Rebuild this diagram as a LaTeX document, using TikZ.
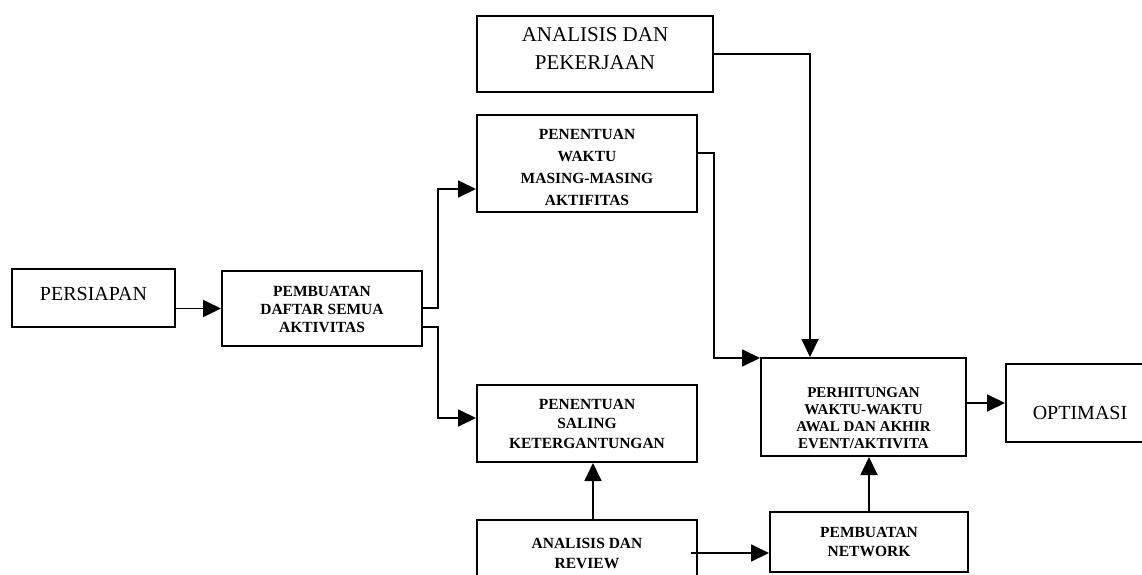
\documentclass[tikz,border=0pt]{standalone}
\usepackage{fontspec}
\setmainfont{Liberation Serif}
\usetikzlibrary{arrows.meta,calc}
\begin{document}
\begin{tikzpicture}[x=1pt,y=-1pt,
  box/.style={draw, line width=2pt, rectangle, inner sep=0pt},
  txt/.style={align=center, inner sep=0pt},
  small/.style={txt, font=\bfseries\fontsize{15.5pt}{#1}\selectfont},
  arr/.style={line width=1.8pt, -{Triangle[length=18pt,width=17pt]}},
]
\useasboundingbox (0,0) rectangle (1142,575);

\node[box, minimum width=163pt, minimum height=58pt,
  label={[txt, font=\fontsize{20pt}{24pt}\selectfont, yshift=4pt]center:PERSIAPAN}] (pers) at (93.5,298) {};
\node[box, minimum width=200pt, minimum height=75pt,
  label={[small=18pt, yshift=-1pt]center:PEMBUATAN\\DAFTAR SEMUA\\AKTIVITAS}] (daftar) at (322,308.5) {};
\node[box, minimum width=236pt, minimum height=76pt,
  label={[txt, font=\fontsize{21pt}{28pt}\selectfont, yshift=5pt]center:ANALISIS DAN\\PEKERJAAN}] (pekerjaan) at (595,54) {};
\node[box, minimum width=220pt, minimum height=97pt,
  label={[small=22pt, yshift=-3.5pt]center:PENENTUAN\\WAKTU\\MASING-MASING\\AKTIFITAS}] (waktu) at (587,163.5) {};
\node[box, minimum width=220pt, minimum height=77pt,
  label={[small=19.5pt]center:PENENTUAN\\SALING\\KETERGANTUNGAN}] (saling) at (587,423.5) {};
\node[box, minimum width=220pt, minimum height=70pt,
  label={[small=20pt, yshift=2pt]center:ANALISIS DAN\\REVIEW}] (review) at (587,555) {};
\node[box, minimum width=198pt, minimum height=60pt,
  label={[small=18.5pt]center:PEMBUATAN\\NETWORK}] (network) at (869,542) {};
\node[box, minimum width=205pt, minimum height=98pt,
  label={[txt, font=\bfseries\fontsize{15pt}{17pt}\selectfont, yshift=-11pt]center:PERHITUNGAN\\WAKTU-WAKTU\\AWAL DAN AKHIR\\EVENT/AKTIVITA}] (perhit) at (863.5,407) {};
\node[box, minimum width=148pt, minimum height=78pt,
  label={[txt, font=\fontsize{20pt}{24pt}\selectfont, yshift=-10pt]center:OPTIMASI}] (optim) at (1080,403) {};

\draw[arr] (pers.east |- daftar.west) -- (daftar.west);
\draw[arr] ($(daftar.east)+(0,-0.5)$) -- ++(15,0) |- ($(waktu.west)+(0,25.5)$);
\draw[arr] ($(daftar.east)+(0,18.5)$) -- ++(15,0) |- ($(saling.west)+(0,-5.5)$);
\draw[arr] (pekerjaan.east) -| ($(perhit.north)+(-53.5,0)$);
\draw[arr] ($(waktu.east)+(0,-10.5)$) -- ++(16,0) |- ($(perhit.north west)+(0,1)$);
\draw[arr] ($(review.north)+(6,0)$) -- ($(saling.south)+(6,0)$);
\draw[arr] ($(review.east)+(-7,-2)$) -- ($(network.west)+(0,11)$);
\draw[arr] (network.north) -- (network.north |- perhit.south);
\draw[arr] (perhit.east |- optim.west) -- (optim.west);
\end{tikzpicture}
\end{document}
